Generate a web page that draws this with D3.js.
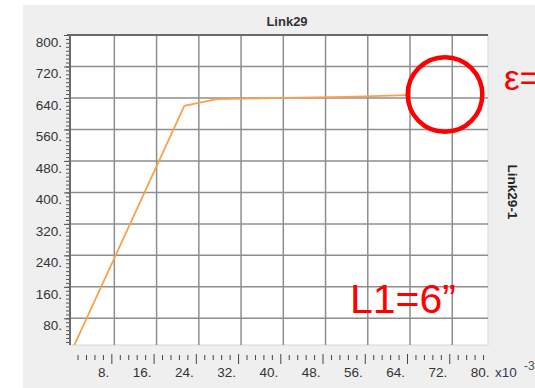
<!DOCTYPE html>
<html lang="en">
    <head>
        <title>Link29</title>
        <meta charset="utf-8">
        <script src="https://d3js.org/d3.v7.min.js"></script>
        <style>
            body {
                margin: 0;
                padding: 0;
                background-color: white;
                overflow: hidden;
            }
            svg {
                display: block;
                font-family: "Liberation Sans", Arial, sans-serif;
            }
        </style>
    </head>
    <body>
    <div id="container"></div>
    <script>
        // curve (x in units of 1e-3)
        const xValues = [0, 8, 16, 21.25, 27.4, 40, 52, 63.4];
        const yValues = [0, 233, 467, 620, 637, 640, 643, 647];

        const xTicks = [8, 16, 24, 32, 40, 48, 56, 64, 72, 80];
        const yTicks = [80, 160, 240, 320, 400, 480, 560, 640, 720, 800];

        const chartTitle = "Link29";
        const sideLabel = "Link29-1";
        const noteEps = "ε=";
        const noteL1 = "L1=6”";

        const w = 535;
        const h = 388;
        const plot = {left: 70, right: 488, top: 35, bottom: 345};

        const svg = d3.select("#container")
            .append("svg")
            .attr("width", w)
            .attr("height", h);

        // grey panel
        svg.append("rect")
            .attr("x", 23).attr("y", 5)
            .attr("width", w - 23).attr("height", h - 5)
            .attr("fill", "#efefef");

        const xScale = d3.scaleLinear()
            .domain([-0.4, 78.77])
            .range([plot.left, plot.right]);

        const yScale = d3.scaleLinear()
            .domain([12.2, 800])
            .range([plot.bottom, plot.top]);

        svg.append("rect")
            .attr("x", plot.left).attr("y", plot.top)
            .attr("width", plot.right - plot.left)
            .attr("height", plot.bottom - plot.top)
            .attr("fill", "white")
            .attr("stroke", "#d6d6d6")
            .attr("stroke-width", 1);

        // grid
        svg.append("g")
            .selectAll("line")
            .data(xTicks.filter(d => xScale(d) < plot.right))
            .enter().append("line")
            .attr("x1", d => xScale(d)).attr("x2", d => xScale(d))
            .attr("y1", plot.top).attr("y2", plot.bottom)
            .attr("stroke", "#8e8e8e")
            .attr("stroke-width", 1.5);

        svg.append("g")
            .selectAll("line")
            .data(yTicks.filter(d => d < 800))
            .enter().append("line")
            .attr("x1", plot.left).attr("x2", plot.right)
            .attr("y1", d => yScale(d)).attr("y2", d => yScale(d))
            .attr("stroke", "#8e8e8e")
            .attr("stroke-width", 1.5);

        // top border and left axis line
        svg.append("line")
            .attr("x1", plot.left - 3).attr("x2", plot.right)
            .attr("y1", plot.top).attr("y2", plot.top)
            .attr("stroke", "#6a6a6a").attr("stroke-width", 2);
        svg.append("line")
            .attr("x1", plot.left).attr("x2", plot.left)
            .attr("y1", plot.top).attr("y2", plot.bottom)
            .attr("stroke", "#6a6a6a").attr("stroke-width", 2);

        // the curve
        svg.append("clipPath").attr("id", "clip")
            .append("rect")
            .attr("x", plot.left).attr("y", plot.top)
            .attr("width", plot.right - plot.left)
            .attr("height", plot.bottom - plot.top);

        const line = d3.line()
            .x((d, i) => xScale(xValues[i]))
            .y((d, i) => yScale(yValues[i]));

        svg.append("path")
            .datum(xValues)
            .attr("clip-path", "url(#clip)")
            .attr("d", line)
            .attr("fill", "none")
            .attr("stroke", "#f8a24c")
            .attr("stroke-width", 1.8);

        // y axis ticks
        const yMinor = d3.axisLeft(yScale)
            .tickValues(d3.range(20, 800, 10))
            .tickSize(3)
            .tickFormat("");
        svg.append("g")
            .attr("transform", `translate(${plot.left - 1}, 0)`)
            .attr("color", "#555")
            .call(yMinor)
            .call(g => g.select(".domain").remove());

        const yMajor = d3.axisLeft(yScale)
            .tickValues(yTicks)
            .tickSize(5)
            .tickFormat("");
        svg.append("g")
            .attr("transform", `translate(${plot.left - 1}, 0)`)
            .attr("color", "#555")
            .call(yMajor)
            .call(g => g.select(".domain").remove());

        svg.append("g")
            .selectAll("text")
            .data(yTicks)
            .enter().append("text")
            .attr("x", 62)
            .attr("y", d => yScale(d) + 12)
            .attr("text-anchor", "end")
            .attr("font-size", 13.5)
            .attr("fill", "#333")
            .text(d => d + ".");

        // x axis ticks (drawn a little left of the grid, as in the original)
        const xMinor = d3.axisBottom(xScale)
            .tickValues(d3.range(1, 50).map(i => i * 1.6).filter(v => v % 8 > 0.01 && v % 8 < 7.99))
            .tickSize(5)
            .tickFormat("");
        svg.append("g")
            .attr("transform", `translate(-3, 355)`)
            .attr("color", "#444")
            .call(xMinor)
            .call(g => g.select(".domain").remove());

        const xMajor = d3.axisBottom(xScale)
            .tickValues(xTicks.filter(d => d < 78))
            .tickSize(10)
            .tickFormat("");
        svg.append("g")
            .attr("transform", `translate(-3, 354)`)
            .attr("color", "#444")
            .call(xMajor)
            .call(g => g.select(".domain").remove());

        svg.append("g")
            .selectAll("text")
            .data(xTicks)
            .enter().append("text")
            .attr("x", d => xScale(d) - 5)
            .attr("y", 377)
            .attr("text-anchor", "end")
            .attr("font-size", 13.5)
            .attr("fill", "#333")
            .text(d => d + ".");

        svg.append("text")
            .attr("x", 495).attr("y", 377)
            .attr("font-size", 13.5)
            .attr("fill", "#2f3c58")
            .text("x10");
        svg.append("text")
            .attr("x", 524).attr("y", 370)
            .attr("font-size", 12)
            .attr("fill", "#555")
            .text("-3");

        // titles
        svg.append("text")
            .attr("x", 287).attr("y", 26)
            .attr("text-anchor", "middle")
            .attr("font-size", 13)
            .attr("font-weight", "bold")
            .attr("fill", "#333")
            .text(chartTitle);

        svg.append("text")
            .attr("transform", "translate(508, 192) rotate(90)")
            .attr("text-anchor", "middle")
            .attr("font-size", 13.5)
            .attr("font-weight", "bold")
            .attr("fill", "#222")
            .text(sideLabel);

        // red annotations
        svg.append("circle")
            .attr("cx", 445).attr("cy", 94.5)
            .attr("r", 37.3)
            .attr("fill", "none")
            .attr("stroke", "#ff0000")
            .attr("stroke-width", 4.5);

        svg.append("text")
            .attr("x", 504).attr("y", 90)
            .attr("font-size", 35)
            .attr("fill", "#ff0000")
            .text(noteEps);

        svg.append("text")
            .attr("x", 350).attr("y", 313)
            .attr("font-size", 41)
            .attr("fill", "#ff0000")
            .text(noteL1);
    </script>
    </body>
</html>
